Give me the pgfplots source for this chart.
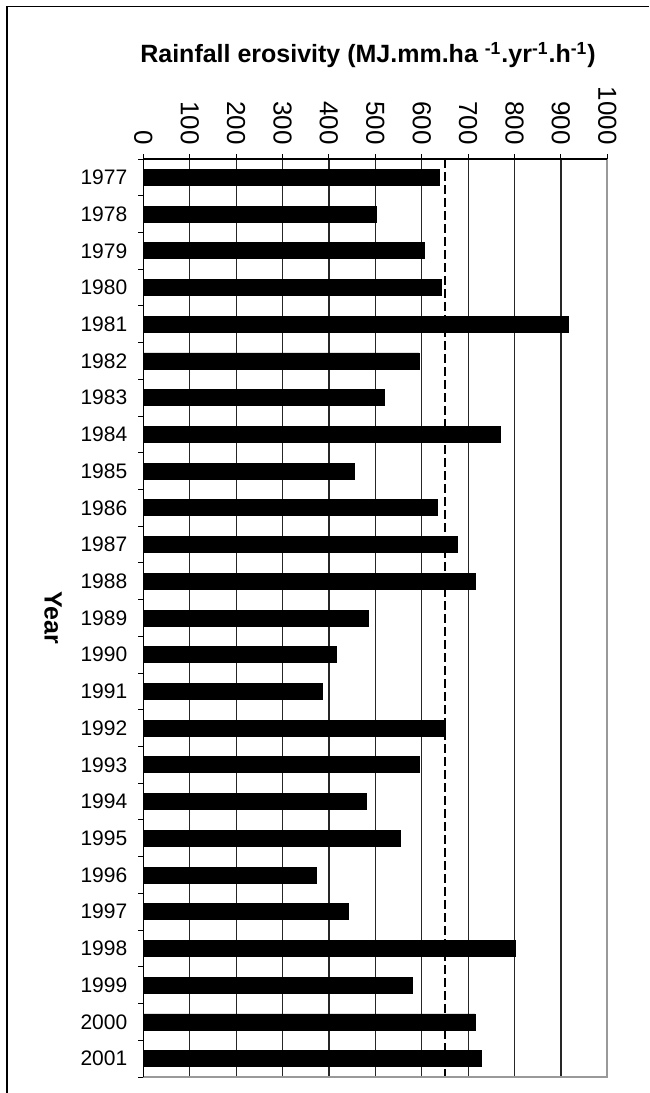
\documentclass[border=0pt]{standalone}
\usepackage{pgfplots}
\pgfplotsset{compat=1.18}
\usepackage{pgfplotstable}
\usepackage{fontspec}
\setmainfont{Liberation Sans}
\pgfplotstableread{
idx val
0 638
1 503
2 606
3 642
4 916
5 594
6 520
7 769
8 454
9 633
10 676
11 715
12 485
13 416
14 386
15 651
16 594
17 481
18 554
19 372
20 441
21 802
22 580
23 715
24 728
}\erosivity
\begin{document}
\begin{tikzpicture}
\useasboundingbox (0,0) rectangle (324.5pt,546.5pt);
\draw[black, line width=0.6pt] (3.5pt,0) -- (3.5pt,543.3pt) -- (324.5pt,543.3pt);
\begin{axis}[
  at={(71.65pt,8pt)}, anchor=south west,
  scale only axis, width=232pt, height=459pt,
  xmin=0, xmax=1000, ymin=-0.5, ymax=24.5, y dir=reverse,
  /pgf/number format/assume math mode=true,
  /pgf/number format/1000 sep={},
  xtick={0,100,...,1000},
  xtick pos=upper, xticklabel pos=upper,
  ytick pos=left,
  tick align=outside,
  major tick length=2.5pt,
  tick style={black, line width=0.5pt},
  xmajorgrids,
  grid style={black!85, line width=0.6pt},
  xticklabel style={rotate=-90, anchor=east, font=\fontsize{13}{13}\selectfont, inner xsep=4.5pt},
  ytick={-0.5,0.5,...,24.5},
  yticklabels={},
  extra y ticks={0,1,...,24},
  extra y tick labels={1977,1978,1979,1980,1981,1982,1983,1984,1985,1986,1987,1988,1989,1990,1991,1992,1993,1994,1995,1996,1997,1998,1999,2000,2001},
  extra y tick style={major tick length=0pt, yticklabel style={font=\fontsize{10.5}{10.5}\selectfont, xshift=-4.5pt}},
  axis line style={draw=none},
  extra description/.code={
    \draw[gray!80, line width=1pt] (axis description cs:0,0) -- (axis description cs:1,0) -- (axis description cs:1,1);
    \draw[black, line width=0.6pt] (axis description cs:0,0) -- (axis description cs:0,1) -- (axis description cs:1,1);
  },
]
\addplot[xbar, fill=black, draw=black, bar width=8pt] table[x=val, y=idx] {\erosivity};
\addplot[black, line width=1.3pt, dash pattern=on 4.5pt off 2pt] coordinates {(650,-0.5) (650,24.5)};
\end{axis}
\node[anchor=base, font=\bfseries\fontsize{12.5}{12.5}\selectfont] at (184pt,515pt) {Rainfall erosivity (MJ.mm.ha \textsuperscript{-1}.yr\textsuperscript{-1}.h\textsuperscript{-1})};
\node[rotate=-90, font=\bfseries\fontsize{12.5}{12.5}\selectfont] at (26.5pt,237.5pt) {Year};
\end{tikzpicture}
\end{document}
